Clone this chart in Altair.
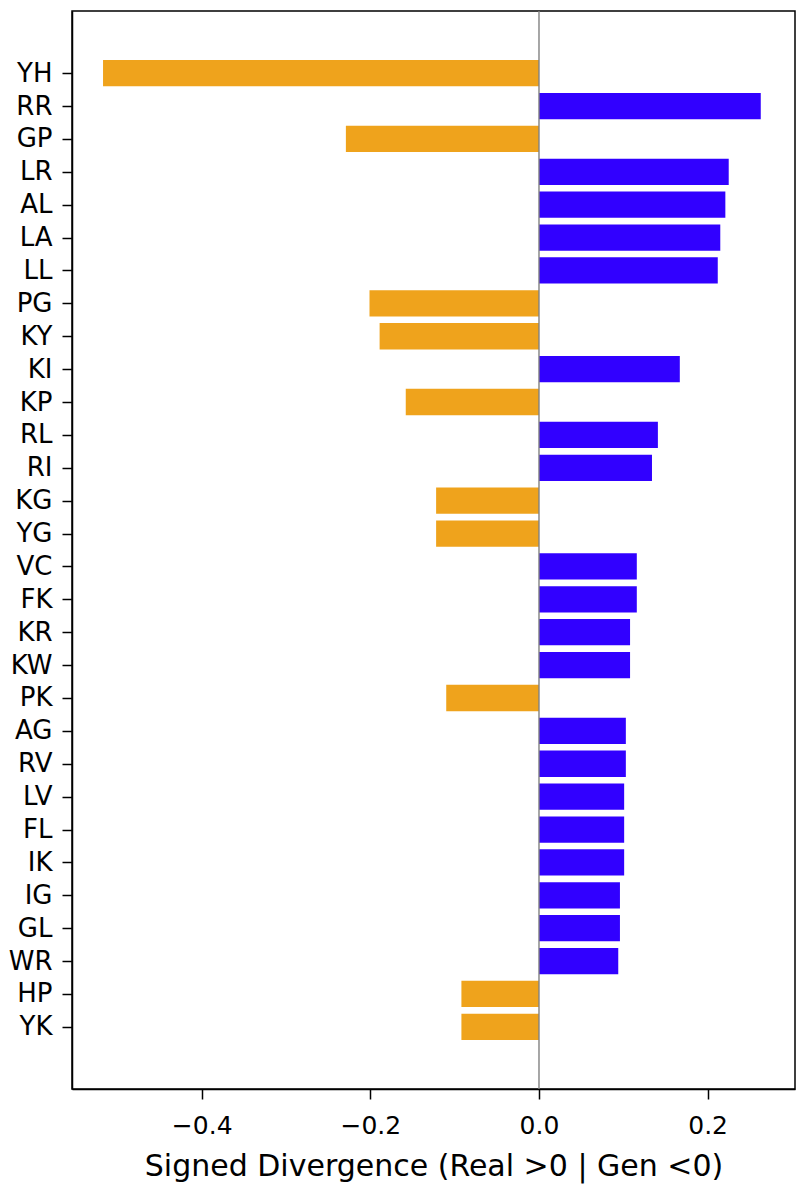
import altair as alt
import pandas as pd
import json

categories = ["YH", "RR", "GP", "LR", "AL", "LA", "LL", "PG", "KY", "KI",
              "KP", "RL", "RI", "KG", "YG", "VC", "FK", "KR", "KW", "PK",
              "AG", "RV", "LV", "FL", "IK", "IG", "GL", "WR", "HP", "YK"]
values = [-0.517, 0.263, -0.229, 0.225, 0.221, 0.215, 0.212, -0.201, -0.189, 0.167,
          -0.158, 0.141, 0.134, -0.122, -0.122, 0.116, 0.116, 0.108, 0.108, -0.110,
          0.103, 0.103, 0.101, 0.101, 0.101, 0.096, 0.096, 0.094, -0.092, -0.092]
x_ticks = [-0.4, -0.2, 0.0, 0.2]
x_domain = [-0.5538, 0.3036]
bar_half = 0.4
y_domain = [-1.89, len(categories) - 1 + 1.89]

idx = list(range(len(categories)))
df = pd.DataFrame({
    "pair": categories,
    "idx": idx,
    "lo": [i - bar_half for i in idx],
    "hi": [i + bar_half for i in idx],
    "value": values,
    "sign": ["Gen" if v < 0 else "Real" for v in values],
})

label_expr = json.dumps(categories).replace('"', "'") + "[datum.value]"

bars = alt.Chart(df).mark_bar().encode(
    y=alt.Y("lo:Q",
            scale=alt.Scale(domain=y_domain, reverse=True, nice=False, zero=False),
            axis=alt.Axis(title=None, values=idx, labelExpr=label_expr,
                          labelFontSize=26, tickSize=10, tickWidth=1.5,
                          labelPadding=10, domainWidth=1.5)),
    y2="hi:Q",
    x=alt.X("value:Q",
            scale=alt.Scale(domain=x_domain, nice=False),
            axis=alt.Axis(values=x_ticks, format=".1f",
                          labelExpr="replace(format(datum.value, '.1f'), '-', '\u2212')",
                          title="Signed Divergence (Real >0 | Gen <0)",
                          labelFontSize=25, titleFontSize=30, titleFontWeight="normal",
                          tickSize=10, tickWidth=1.5, labelPadding=14, titlePadding=13,
                          domainWidth=1.5)),
    x2=alt.datum(0),
    color=alt.Color("sign:N",
                    scale=alt.Scale(domain=["Real", "Gen"], range=["#3100FF", "#EFA31C"]),
                    legend=None),
)

zero = alt.Chart(pd.DataFrame({"z": [0.0]})).mark_rule(color="#808080", strokeWidth=1.4).encode(
    x=alt.X("z:Q")
)

chart = alt.layer(bars, zero).properties(
    width=723, height=1078,
    autosize=alt.AutoSizeParams(type="none"),
    padding={"left": 72, "top": 11, "right": 5, "bottom": 98},
).configure(
    font="DejaVu Sans",
    background="white",
).configure_view(
    stroke="black", strokeWidth=1.5,
).configure_axis(
    grid=False, domainColor="black", tickColor="black", labelColor="black",
    titleColor="black",
)

chart.save("out.html", embed_options={"renderer": "svg", "actions": False})
